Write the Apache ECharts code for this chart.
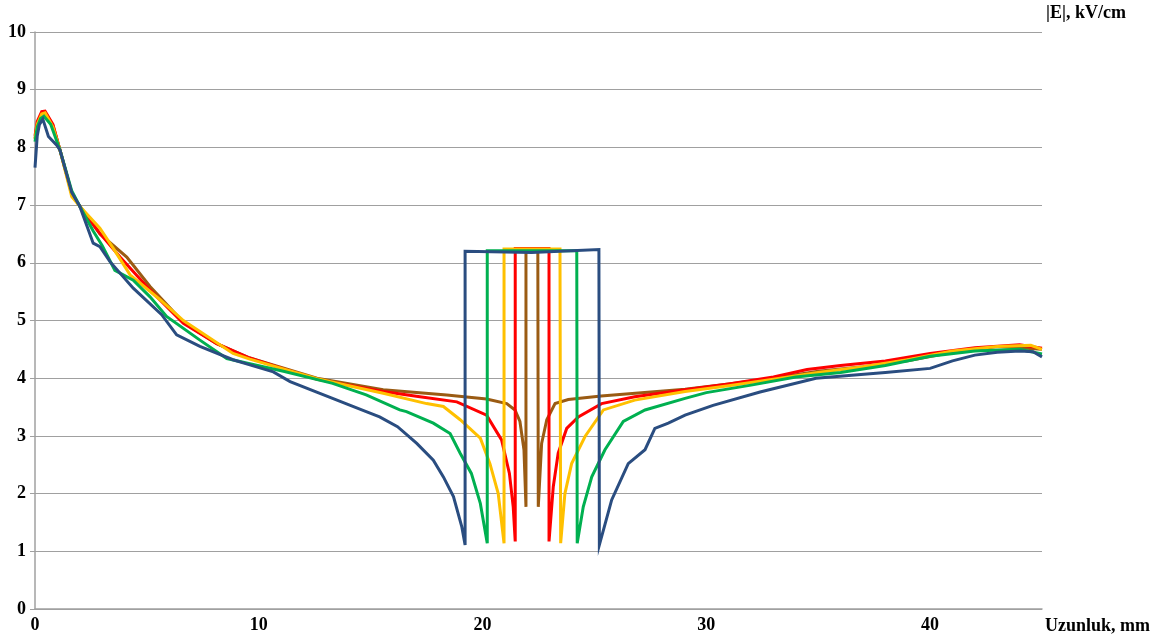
<!DOCTYPE html>
<html>
<head>
<meta charset="utf-8">
<script src="https://cdn.jsdelivr.net/npm/echarts@6/dist/echarts.min.js"></script>
<style>html,body{margin:0;padding:0;background:#fff}#c{width:1169px;height:644px}</style>
</head>
<body>
<div id="c"></div>
<script>
const xTicks = [0, 10, 20, 30, 40];
const yTicks = [0, 1, 2, 3, 4, 5, 6, 7, 8, 9, 10];
const seriesNames = ['brown', 'red', 'yellow', 'green', 'blue'];

const brown = [[0,8.15],[0.1,8.4],[0.3,8.58],[0.45,8.6],[0.8,8.38],[1.12,7.95],[1.64,7.2],[2.0,6.98],[2.9,6.5],[3.5,6.3],[4.1,6.1],[5.14,5.59],[6.63,4.97],[8.12,4.6],[9.6,4.35],[12.6,4.0],[15.56,3.8],[18.4,3.71],[20.18,3.64],[21.08,3.56],[21.45,3.45],[21.67,3.25],[21.85,2.76],[21.94,1.77],
  [21.94,6.2],[22.47,6.2],[22.49,1.77],
  [22.64,2.87],[22.87,3.28],[23.24,3.56],[23.83,3.63],[25.3,3.69],[29.05,3.81],[31,3.9],[33,4.0],[35,4.12],[37,4.2],[39,4.3],[41,4.45],[43,4.55],[45,4.5]];

const red = [[0,8.2],[0.1,8.45],[0.3,8.62],[0.45,8.63],[0.8,8.4],[1.12,7.95],[1.64,7.2],[2.0,6.98],[2.9,6.51],[3.8,6.1],[5.14,5.53],[6.63,4.95],[8.12,4.6],[9.6,4.35],[10.8,4.2],[12.6,3.98],[15.56,3.77],[17.2,3.68],[18.85,3.59],[20.18,3.36],[20.85,2.93],[21.2,2.35],[21.37,1.77],[21.46,1.17],
  [21.46,6.25],[22.97,6.25],[22.97,1.17],
  [23.16,2.12],[23.38,2.7],[23.76,3.13],[24.28,3.33],[25.32,3.56],[26.8,3.68],[29.05,3.8],[31,3.9],[33,4.02],[34.5,4.15],[36,4.22],[38,4.3],[40,4.43],[42,4.53],[44,4.58],[45,4.52]];

const yellow = [[0,8.15],[0.1,8.4],[0.3,8.58],[0.45,8.6],[0.8,8.35],[1.12,7.95],[1.64,7.15],[2.0,6.98],[2.9,6.6],[3.5,6.25],[4.25,5.79],[5.59,5.36],[6.63,5.0],[8.85,4.43],[9.6,4.33],[12.6,3.99],[15.56,3.74],[17.5,3.56],[18.25,3.51],[19.0,3.28],[19.9,2.96],[20.33,2.52],[20.7,2.0],[20.96,1.14],
  [20.96,6.24],[23.46,6.24],[23.49,1.14],
  [23.68,2.0],[23.98,2.52],[24.58,2.99],[25.4,3.45],[26.8,3.62],[29.05,3.77],[31,3.87],[33,3.98],[35,4.1],[37,4.2],[39,4.32],[41,4.47],[43,4.55],[44.5,4.57],[45,4.5]];

const green = [[0,8.1],[0.1,8.35],[0.25,8.5],[0.4,8.54],[0.7,8.4],[1.12,7.95],[1.64,7.25],[2.0,6.98],[2.6,6.55],[3.0,6.3],[3.57,5.87],[4.39,5.7],[5.14,5.41],[5.88,5.07],[7.37,4.66],[8.57,4.34],[9.6,4.25],[11.1,4.12],[13.3,3.91],[14.8,3.71],[16.3,3.45],[16.6,3.42],[17.8,3.22],[18.55,3.04],[19.0,2.7],[19.5,2.35],[19.9,1.83],[20.21,1.14],
  [20.21,6.21],[24.21,6.21],[24.23,1.14],
  [24.5,1.77],[24.88,2.29],[25.47,2.76],[26.29,3.25],[27.26,3.45],[29.05,3.65],[30,3.75],[32,3.88],[34,4.02],[36,4.1],[38,4.22],[40,4.38],[42,4.47],[44,4.5],[45,4.42]];

const blue = [[0,7.65],[0.1,8.2],[0.2,8.4],[0.35,8.49],[0.6,8.19],[0.97,8.04],[1.12,7.95],[1.64,7.22],[2.0,6.98],[2.6,6.34],[2.9,6.28],[3.35,6.02],[4.39,5.56],[5.66,5.1],[6.33,4.75],[7.37,4.55],[8.85,4.32],[9.6,4.23],[10.65,4.11],[11.4,3.94],[12.9,3.71],[14.8,3.42],[15.4,3.33],[16.2,3.16],[17.06,2.87],[17.8,2.58],[18.25,2.29],[18.7,1.95],[19.07,1.43],[19.22,1.11],
  [19.22,6.2],[22.2,6.18],[25.2,6.23],[25.22,1.11],
  [25.77,1.89],[26.51,2.52],[27.26,2.76],[27.7,3.13],[28.3,3.22],[29.05,3.36],[30.3,3.53],[32.4,3.76],[34.9,4.0],[36.5,4.05],[38,4.1],[40,4.17],[41,4.3],[42,4.4],[43,4.45],[44,4.47],[44.6,4.46],[45,4.37]];

const seriesData = [brown, red, yellow, green, blue];
const seriesColors = ['#9a5b13', '#ff0000', '#ffc000', '#00b050', '#2a4d80'];

const font = 'Liberation Serif';
const chart = echarts.init(document.getElementById('c'));
chart.setOption({
  animation: false,
  backgroundColor: '#fff',
  grid: { left: 35, right: 127, top: 32, bottom: 35, containLabel: false },
  xAxis: {
    type: 'value', min: xTicks[0], max: 45, interval: 10,
    axisLine: { show: true, lineStyle: { color: '#a0a0a0', width: 1.5 } },
    axisTick: { show: false },
    splitLine: { show: false },
    axisLabel: { showMaxLabel: false, margin: 7, color: '#000', fontFamily: font, fontWeight: 'bold', fontSize: 18,
      formatter: v => xTicks.includes(v) ? String(v) : '' }
  },
  yAxis: {
    type: 'value', min: yTicks[0], max: yTicks[yTicks.length - 1], interval: 1,
    axisLine: { show: true, lineStyle: { color: '#a0a0a0', width: 1.5 } },
    axisTick: { show: true, length: 5, lineStyle: { color: '#a0a0a0' } },
    splitLine: { show: true, lineStyle: { color: '#a0a0a0', width: 1.2 } },
    axisLabel: { margin: 9, color: '#000', fontFamily: font, fontWeight: 'bold', fontSize: 18 }
  },
  graphic: [
    { type: 'text', left: 1046, top: 4, style: { text: '|E|, kV/cm', fontFamily: font, fontWeight: 'bold', fontSize: 18, fill: '#000' } },
    { type: 'text', left: 1045, top: 617, style: { text: 'Uzunluk, mm', fontFamily: font, fontWeight: 'bold', fontSize: 18, fill: '#000' } }
  ],
  series: seriesData.map((d, i) => ({
    name: seriesNames[i], type: 'line', data: d, showSymbol: false, symbol: 'none',
    lineStyle: { color: seriesColors[i], width: 3, join: 'miter' }, z: 2 + i
  }))
});
</script>
</body>
</html>
